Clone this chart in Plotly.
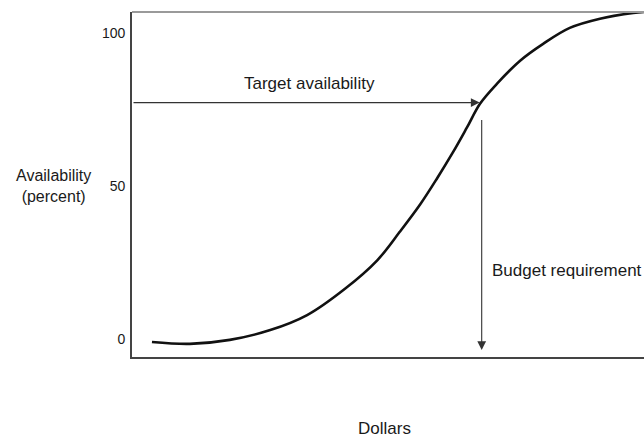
import plotly.graph_objects as go

# Curve (x: relative dollars 0-100, y: availability %)
dollars = [3.9, 11.3, 19.1, 27.0, 34.2, 41.6, 47.9, 52.3, 56.3, 59.6,
           62.7, 65.4, 68.0, 71.3, 75.8, 80.3, 85.5, 91.4, 97.9, 100.0]
availability = [-1.0, -1.6, -0.3, 2.9, 7.8, 16.4, 25.7, 35.0, 44.0, 52.5,
                61.0, 69.0, 76.9, 83.4, 90.9, 96.4, 101.6, 104.6, 106.5, 106.8]

tick_vals = [0, 50, 100]
tick_text = ["0", "50", "100"]

target_availability = 77.2
budget_dollars = 68.3

FONT = "Liberation Sans"
INK = "#1a1a1a"
PW, PH = 512, 345  # plot area size in px (for placing outside text)

fig = go.Figure()
fig.add_trace(go.Scatter(
    x=dollars, y=availability, mode="lines",
    line=dict(color="#111111", width=2.6, shape="spline", smoothing=1.0),
    hoverinfo="skip", showlegend=False,
))

# Target availability arrow (horizontal)
fig.add_annotation(
    x=budget_dollars - 0.4, y=target_availability, ax=0, ay=target_availability,
    xref="x", yref="y", axref="x", ayref="y",
    showarrow=True, arrowhead=2, arrowsize=1.6, arrowwidth=1.1,
    arrowcolor="#333333", text="", standoff=0,
)
fig.add_annotation(
    x=34.6, y=target_availability + 6.2, xref="x", yref="y",
    xanchor="center", yanchor="middle",
    text="Target availability", showarrow=False,
    font=dict(family=FONT, size=17, color=INK),
)

# Budget requirement arrow (vertical)
fig.add_annotation(
    x=budget_dollars, y=-3.6, ax=budget_dollars, ay=72.0,
    xref="x", yref="y", axref="x", ayref="y",
    showarrow=True, arrowhead=2, arrowsize=1.6, arrowwidth=1.1,
    arrowcolor="#333333", text="", standoff=0,
)
fig.add_annotation(
    x=70.0, y=22.5, xref="x", yref="y", xanchor="left", yanchor="middle",
    text="Budget requirement", showarrow=False,
    font=dict(family=FONT, size=17, color=INK),
)

# Axis titles
fig.add_annotation(
    x=(53 - 132) / PW, y=(357 - 186) / PH, xref="x domain", yref="y domain",
    xanchor="center", yanchor="middle",
    text="Availability<br>(percent)", showarrow=False,
    font=dict(family=FONT, size=16, color=INK),
)
fig.add_annotation(
    x=(384 - 132) / PW, y=-(428 - 357) / PH, xref="x domain", yref="y domain",
    xanchor="center", yanchor="middle",
    text="Dollars", showarrow=False,
    font=dict(family=FONT, size=17, color=INK),
)

# Top frame line (lighter)
fig.add_shape(type="line", xref="x domain", yref="y domain",
              x0=0, x1=1, y0=1, y1=1, line=dict(color="#9a9a9a", width=2))

fig.update_xaxes(
    range=[0, 100], showgrid=False, zeroline=False, showticklabels=False,
    showline=True, linecolor="#444444", linewidth=1.6, ticks="",
)
fig.update_yaxes(
    range=[-5.9, 106.8], showgrid=False, zeroline=False,
    tickvals=tick_vals, ticktext=tick_text,
    tickfont=dict(family=FONT, size=14, color=INK),
    showline=True, linecolor="#444444", linewidth=1.6,
    ticks="outside", ticklen=2, tickcolor="rgba(0,0,0,0)",
)

fig.update_layout(
    width=644, height=438,
    margin=dict(l=132, r=0, t=12, b=81),
    plot_bgcolor="white", paper_bgcolor="white",
    showlegend=False,
)

fig.write_html("out.html", config={"displayModeBar": False},
               post_script="document.body.style.margin='0px';")
